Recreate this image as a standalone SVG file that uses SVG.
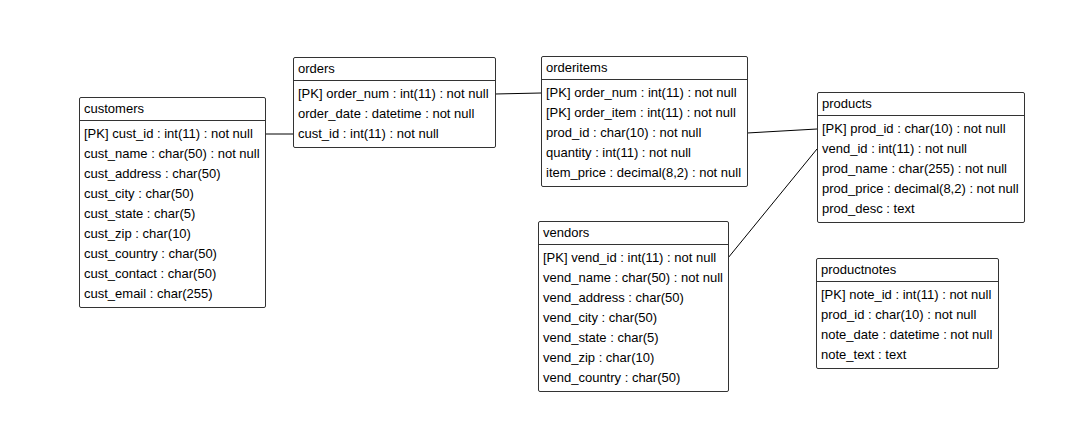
<svg xmlns="http://www.w3.org/2000/svg" width="1074" height="441" viewBox="0 0 1074 441">
<style>
.box{fill:#fff;stroke:#333;stroke-width:1}
.sep{stroke:#333;stroke-width:1}
text{font-family:"Liberation Sans",Arial,sans-serif;font-size:13px;fill:#000}
.conn{stroke:#000;stroke-width:1;fill:none}
</style>
<rect width="1074" height="441" fill="#fff"/>
<g id="connectors">
<path class="conn" d="M265.5 134 L293 134"/>
<path class="conn" d="M495 94 L541 93"/>
<path class="conn" d="M747 133 L817 129"/>
<path class="conn" d="M728 258 L817 149"/>
</g>
<g id="customers">
<rect class="box" x="79.5" y="97.5" width="186" height="210" rx="1.5"/>
<line class="sep" x1="79.5" y1="120.5" x2="265.5" y2="120.5"/>
<text x="84" y="113">customers</text>
<text x="84" y="138">[PK] cust_id : int(11) : not null</text>
<text x="84" y="158">cust_name : char(50) : not null</text>
<text x="84" y="178">cust_address : char(50)</text>
<text x="84" y="198">cust_city : char(50)</text>
<text x="84" y="218">cust_state : char(5)</text>
<text x="84" y="238">cust_zip : char(10)</text>
<text x="84" y="258">cust_country : char(50)</text>
<text x="84" y="278">cust_contact : char(50)</text>
<text x="84" y="298">cust_email : char(255)</text>
</g>
<g id="orders">
<rect class="box" x="293.5" y="57.5" width="202" height="90" rx="1.5"/>
<line class="sep" x1="293.5" y1="80.5" x2="495.5" y2="80.5"/>
<text x="298" y="73">orders</text>
<text x="298" y="98">[PK] order_num : int(11) : not null</text>
<text x="298" y="118">order_date : datetime : not null</text>
<text x="298" y="138">cust_id : int(11) : not null</text>
</g>
<g id="orderitems">
<rect class="box" x="541.5" y="56.5" width="206" height="130" rx="1.5"/>
<line class="sep" x1="541.5" y1="79.5" x2="747.5" y2="79.5"/>
<text x="546" y="72">orderitems</text>
<text x="546" y="97">[PK] order_num : int(11) : not null</text>
<text x="546" y="117">[PK] order_item : int(11) : not null</text>
<text x="546" y="137">prod_id : char(10) : not null</text>
<text x="546" y="157">quantity : int(11) : not null</text>
<text x="546" y="177">item_price : decimal(8,2) : not null</text>
</g>
<g id="products">
<rect class="box" x="817.5" y="92.5" width="207" height="130" rx="1.5"/>
<line class="sep" x1="817.5" y1="115.5" x2="1024.5" y2="115.5"/>
<text x="822" y="108">products</text>
<text x="822" y="133">[PK] prod_id : char(10) : not null</text>
<text x="822" y="153">vend_id : int(11) : not null</text>
<text x="822" y="173">prod_name : char(255) : not null</text>
<text x="822" y="193">prod_price : decimal(8,2) : not null</text>
<text x="822" y="213">prod_desc : text</text>
</g>
<g id="vendors">
<rect class="box" x="538.5" y="221.5" width="190" height="170" rx="1.5"/>
<line class="sep" x1="538.5" y1="244.5" x2="728.5" y2="244.5"/>
<text x="543" y="237">vendors</text>
<text x="543" y="262">[PK] vend_id : int(11) : not null</text>
<text x="543" y="282">vend_name : char(50) : not null</text>
<text x="543" y="302">vend_address : char(50)</text>
<text x="543" y="322">vend_city : char(50)</text>
<text x="543" y="342">vend_state : char(5)</text>
<text x="543" y="362">vend_zip : char(10)</text>
<text x="543" y="382">vend_country : char(50)</text>
</g>
<g id="productnotes">
<rect class="box" x="816.5" y="258.5" width="182" height="110" rx="1.5"/>
<line class="sep" x1="816.5" y1="281.5" x2="998.5" y2="281.5"/>
<text x="821" y="274">productnotes</text>
<text x="821" y="299">[PK] note_id : int(11) : not null</text>
<text x="821" y="319">prod_id : char(10) : not null</text>
<text x="821" y="339">note_date : datetime : not null</text>
<text x="821" y="359">note_text : text</text>
</g>
</svg>
